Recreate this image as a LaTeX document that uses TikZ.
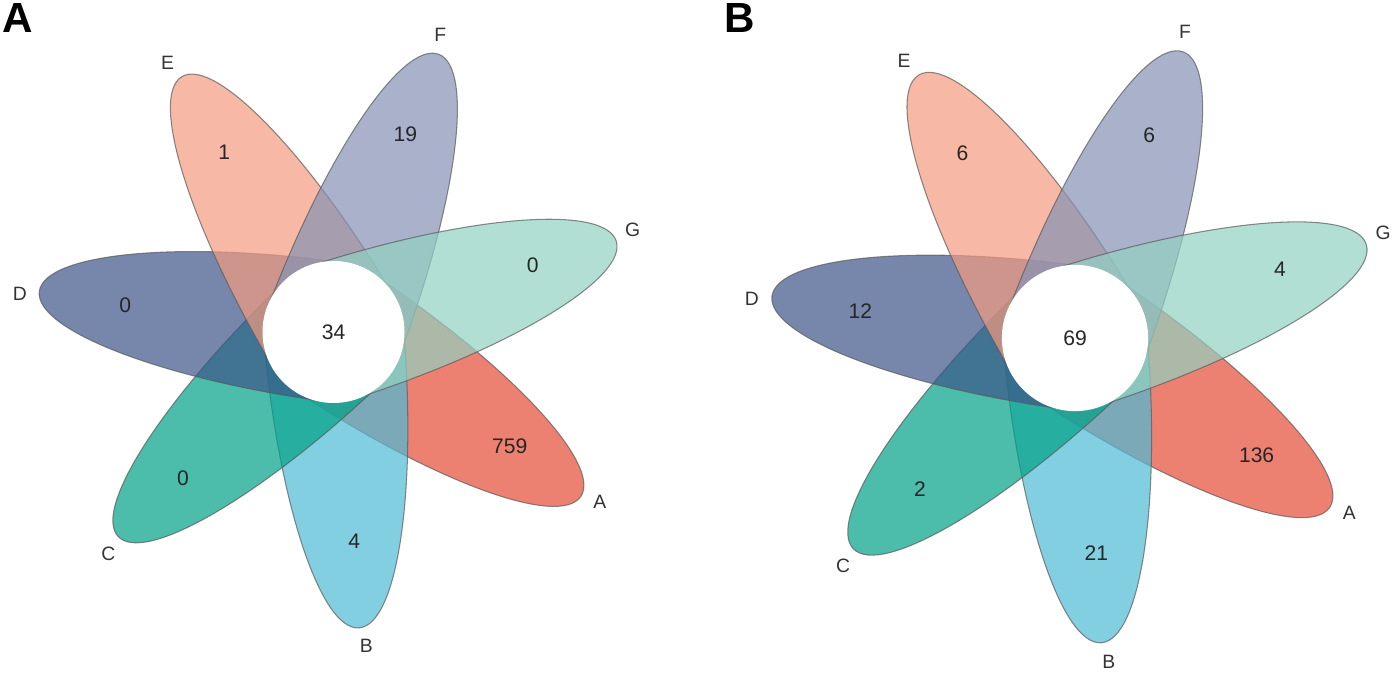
\documentclass[tikz,border=0pt]{standalone}
\usepackage{fontspec}
\setmainfont{Liberation Sans}
\definecolor{petalA}{HTML}{E64B35}
\definecolor{petalB}{HTML}{4DBBD5}
\definecolor{petalC}{HTML}{00A087}
\definecolor{petalD}{HTML}{3C5488}
\definecolor{petalE}{HTML}{F39B7F}
\definecolor{petalF}{HTML}{8491B4}
\definecolor{petalG}{HTML}{91D1C2}
\tikzset{
  setlabels/.style={font=\fontsize{11}{13}\selectfont, text=black!80},
  counts/.style={font=\fontsize{12}{14}\selectfont, text=black!85},
  petal/.style={fill opacity=0.7, draw=black!65, draw opacity=0.7, line width=0.6pt},
  panellabel/.style={font=\fontsize{24}{28}\selectfont\bfseries},
  declare function={
    petallen=297;
    petalwid=70;
  }
}

\begin{document}
\begin{tikzpicture}[
  x=0.02cm,
  y=0.02cm,
]
\useasboundingbox (0,0) rectangle (1400,673);

\node [panellabel] (panel-A) at (18,655) {A};
\node [panellabel] (panel-B) at (740,655) {B};

% flower A
\begin{scope}[shift={(333.5,341)}]
\foreach [count=\i from 0] \s/\n in {A/759, B/4, C/0, D/0, E/1, F/19, G/0}
  {
   \pgfmathsetmacro{\ang}{-33.6-\i*360/7}
   \filldraw [petal, fill=petal\s, rotate=\ang]
     (0,-petalwid) arc [start angle=-90, end angle=90,
                        x radius=petallen, y radius=petalwid] -- cycle;
   \node [counts, name=a-n-\s] at (\ang+0.7:210) {\n};
   \node [setlabels, name=a-s-\s] at (\ang+1:316) {\s};
  }
\fill [white] (0,0) circle [radius=petalwid+1];
\node [counts] (a-core) at (0,0) {34};
\end{scope}

% flower B
\begin{scope}[shift={(1075,335)}, scale=1.03]
\foreach [count=\i from 0] \s/\n in {A/136, B/21, C/2, D/12, E/6, F/6, G/4}
  {
   \pgfmathsetmacro{\ang}{-33.6-\i*360/7}
   \filldraw [petal, fill=petal\s, rotate=\ang]
     (0,-petalwid) arc [start angle=-90, end angle=90,
                        x radius=petallen, y radius=petalwid] -- cycle;
   \node [counts, name=b-n-\s] at (\ang+0.7:210) {\n};
   \node [setlabels, name=b-s-\s] at (\ang+1:316) {\s};
  }
\fill [white] (0,0) circle [radius=petalwid+1];
\node [counts] (b-core) at (0,0) {69};
\end{scope}

\end{tikzpicture}
\end{document}
